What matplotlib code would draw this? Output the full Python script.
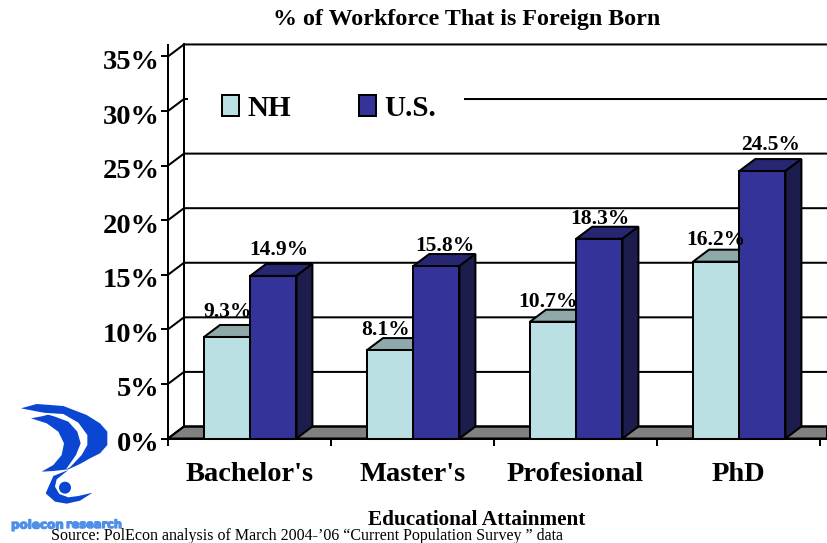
import matplotlib
matplotlib.use('Agg')
import matplotlib.pyplot as plt
import matplotlib.patheffects as pe
from matplotlib.patches import Patch, Polygon, Circle, Rectangle
from matplotlib.transforms import ScaledTranslation

plt.rcParams['font.family'] = ['Liberation Serif', 'DejaVu Serif']
plt.rcParams['font.weight'] = 'bold'

categories = ["Bachelor's", "Master's", "Profesional", "PhD"]
nh_values = [9.3, 8.1, 10.7, 16.2]
us_values = [14.9, 15.8, 18.3, 24.5]
y_ticks = [0, 5, 10, 15, 20, 25, 30, 35]

# hand placement of the data labels, (px sideways, % upwards)
nh_label_shift = [(0, 2.3), (-5, 1.85), (-5, 1.8), (0, 2.0)]
us_label_shift = [(5, 2.4), (9, 1.85), (1, 1.85), (8, 2.4)]

W, H = 827, 543
cat_px = 163
bar_w = 0.2835      # in category units
bar_start = 0.221
dx, dy = 0.098, 1.1  # the fake 3d depth
lw = 1.45

NH_COL = ('#BBE0E3', '#8FA9AB', '#6F8A8C')
US_COL = ('#333399', '#262673', '#1C1C4D')


def bar3d(ax, x, v, cols):
    # front, top and side faces of one bar
    front = [(x, 0), (x + bar_w, 0), (x + bar_w, v), (x, v)]
    top = [(x, v), (x + bar_w, v), (x + bar_w + dx, v + dy), (x + dx, v + dy)]
    side = [(x + bar_w, 0), (x + bar_w + dx, dy), (x + bar_w + dx, v + dy), (x + bar_w, v)]
    for pts, c in zip([top, side, front], [cols[1], cols[2], cols[0]]):
        ax.add_patch(Polygon(pts, closed=True, facecolor=c, edgecolor='black', lw=lw,
                             joinstyle='miter', zorder=4, clip_on=False))


fig = plt.figure(figsize=(W / 100, H / 100), dpi=100)
ax = fig.add_axes([168 / W, (H - 438.5) / H, (W - 168) / W, (438.5 - 45) / H])
x_max = (W - 168) / cat_px
ax.set_xlim(0, x_max)
ax.set_ylim(0, 36.05)

# floor and back wall
ax.add_patch(Polygon([(0, 0), (dx, dy), (x_max, dy), (x_max, 0)], closed=True,
                     facecolor='#808080', edgecolor='black', lw=lw, zorder=1, clip_on=False))
ax.plot([dx, dx], [dy, 35 + dy], color='black', lw=lw, zorder=1, clip_on=False)
for v in y_ticks:
    ax.plot([0, dx, x_max], [v, v + dy, v + dy], color='black', lw=lw, zorder=1, clip_on=False)
# legend box hides the 30% line
ax.add_patch(Rectangle(((188 - 168) / cat_px, 30 + dy - 1), (464 - 188) / cat_px, 2,
                       facecolor='white', edgecolor='none', zorder=2))

for i in range(len(categories)):
    bar3d(ax, i + bar_start, nh_values[i], NH_COL)
    bar3d(ax, i + bar_start + bar_w, us_values[i], US_COL)
    ax.text(i + bar_start + bar_w / 2 + nh_label_shift[i][0] / cat_px, nh_values[i] + nh_label_shift[i][1],
            f'{nh_values[i]:.1f}%', fontsize=15.5, ha='center', va='center', zorder=6)
    ax.text(i + bar_start + bar_w * 1.5 + us_label_shift[i][0] / cat_px, us_values[i] + us_label_shift[i][1],
            f'{us_values[i]:.1f}%', fontsize=15.5, ha='center', va='center', zorder=6)

for s in ['top', 'right']:
    ax.spines[s].set_visible(False)
for s in ['left', 'bottom']:
    ax.spines[s].set_linewidth(lw)
    ax.spines[s].set_zorder(5)

ax.set_yticks(y_ticks)
ax.set_yticklabels([f'{v}%' for v in y_ticks], fontsize=20.5, fontweight='bold')
ax.tick_params(axis='y', length=5, width=lw, pad=1)
# the y labels sit a little under their ticks
for lab in ax.get_yticklabels():
    lab.set_transform(lab.get_transform() + ScaledTranslation(0, -3 / 100, fig.dpi_scale_trans))
ax.set_xticks(range(5))
ax.set_xticklabels([])
ax.tick_params(axis='x', which='major', length=5, width=lw)
ax.set_xticks([i + 0.5 for i in range(4)], minor=True)
ax.set_xticklabels(categories, minor=True, fontsize=20.5, fontweight='bold')
ax.tick_params(axis='x', which='minor', length=0, pad=17)
ax.set_xlabel('Educational Attainment', fontsize=15.3, fontweight='bold')
ax.xaxis.set_label_coords((476.5 - 168) / (W - 168), -(520 - 438.5) / (438.5 - 45))
ax.xaxis.label.set_va('center')

leg = ax.legend(handles=[Patch(facecolor=NH_COL[0], edgecolor='black', lw=lw, label='NH'),
                         Patch(facecolor=US_COL[0], edgecolor='black', lw=lw, label='U.S.')],
                ncols=2, loc='center', bbox_to_anchor=((329 - 168) / (W - 168), (438.5 - 108) / (438.5 - 45)),
                frameon=False, handlelength=0.58, handleheight=0.7, handletextpad=0.28, columnspacing=2.35,
                prop={'size': 21, 'weight': 'bold', 'family': 'Liberation Serif'},
                borderpad=0, borderaxespad=0)
leg.set_zorder(3)

fig.text(467 / W, 1 - 20 / H, '% of Workforce That is Foreign Born', fontsize=17.3,
         ha='center', va='center')
fig.text(51 / W, 1 - 536 / H, 'Source: PolEcon analysis of March 2004-\u201906 \u201cCurrent Population Survey \u201d data',
         fontsize=11.5, fontweight='normal', ha='left', va='center', zorder=20)

# logo, drawn in pixel coordinates
logo = fig.add_axes([0, 0, 1, 1], zorder=10)
logo.set_xlim(0, W)
logo.set_ylim(H, 0)
logo.axis('off')
BLUE = '#0A46D2'


def zpts(pts):
    return [(x / 3, 390 + y / 3) for x, y in pts]


logo.add_patch(Polygon(zpts([(63, 55), (110, 42), (190, 48), (260, 75), (300, 100), (322, 125), (322, 165),
                             (300, 190), (270, 205), (240, 222), (205, 238), (160, 243), (125, 245), (160, 225),
                             (185, 195), (192, 160), (175, 125), (140, 100), (93, 85), (130, 78), (150, 72)]),
                       facecolor=BLUE, edgecolor='none'))
logo.add_patch(Polygon(zpts([(125, 68), (190, 72), (235, 98), (262, 135), (262, 165), (245, 195), (210, 232), (198, 238),
                             (228, 195), (242, 160), (232, 125), (205, 95), (165, 80)]),
                       facecolor='white', edgecolor='none'))
logo.add_patch(Polygon(zpts([(205, 240), (160, 258), (137, 310), (165, 335), (200, 341), (240, 332), (278, 308),
                             (235, 318), (205, 322), (178, 312), (165, 290), (170, 268)]),
                       facecolor=BLUE, edgecolor='none'))
logo.add_patch(Circle((195 / 3, 390 + 293 / 3), 6, facecolor=BLUE, edgecolor='none'))
thick = [pe.withStroke(linewidth=0.9, foreground='#4F8FE8')]
logo.text(11, 525, 'polecon', color='#4F8FE8', fontsize=8.6, fontweight='bold', family='DejaVu Sans',
          ha='left', va='center', path_effects=thick)
logo.text(66, 525, 'research', color='#4F8FE8', fontsize=8.2, fontweight='bold', family='DejaVu Sans',
          ha='left', va='center', path_effects=thick)

fig.savefig('out.png', dpi=100)
